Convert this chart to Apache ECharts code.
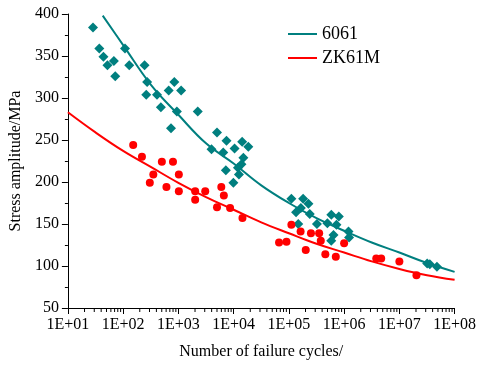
<!DOCTYPE html>
<html>
<head>
<meta charset="utf-8">
<script src="https://cdn.jsdelivr.net/npm/echarts@6/dist/echarts.min.js"></script>
<style>
html,body{margin:0;padding:0;background:#fff;}
#chart{width:479px;height:365px;}
</style>
</head>
<body>
<div id="chart"></div>
<script>
// ---- data ----
const xTickExponents = [1, 2, 3, 4, 5, 6, 7, 8];
const yTicks = [50, 100, 150, 200, 250, 300, 350, 400];

// 6061 test points [cycles, stress MPa]
const al6061Points = [
  [28.5, 384], [37, 359], [44, 349], [52, 339], [68, 344], [72, 326],
  [108, 359], [129, 339], [244, 339], [272, 319], [262, 304], [410, 304],
  [482, 289], [668, 309], [843, 319], [1122, 309], [938, 284], [735, 264],
  [2244, 284], [3972, 239], [5000, 259], [7430, 249], [6490, 235],
  [10400, 240], [14270, 248], [18450, 242], [15000, 229], [13860, 221],
  [11970, 217], [7230, 214], [12470, 209], [9890, 199],
  [111000, 180], [181000, 180], [226000, 174], [165000, 169], [135000, 164],
  [239000, 162], [148000, 150], [322000, 150], [586000, 161], [802000, 159],
  [498000, 151], [727000, 149], [643000, 137], [585000, 130],
  [1200000, 141], [1230000, 134],
  [31900000, 103], [35600000, 102], [47900000, 99]
];

// ZK61M test points [cycles, stress MPa]
const zk61mPoints = [
  [152, 244], [219, 230], [352, 209], [304, 199], [502, 224], [798, 224],
  [1019, 209], [608, 194], [1019, 189], [2013, 189], [3062, 189], [2013, 179],
  [5980, 194], [6650, 184], [5000, 170], [8630, 169], [14450, 157],
  [66400, 128], [90500, 129], [111000, 149], [163000, 141], [202000, 119],
  [251000, 139], [353000, 139], [378000, 130], [457000, 114], [707000, 111],
  [1000000, 127], [3820000, 109], [4690000, 109], [10000000, 105.5], [20400000, 89]
];

// fitted curves [cycles, stress MPa]
const al6061FitN = [42.7, 100, 316, 1000, 3162, 10000, 31623, 100000, 316228, 1000000, 3162278, 10000000, 31622777, 100000000];
const al6061FitS = [398, 363, 316, 280, 246, 222, 196, 175, 157, 142, 128, 116, 103.5, 93];
const zk61mFitN = [10, 31.6, 100, 316, 1000, 3162, 10000, 31623, 100000, 316228, 1000000, 3162278, 10000000, 31622777, 100000000];
const zk61mFitS = [283, 259, 237, 218, 199, 182, 167, 152, 139, 126.5, 116, 105.5, 96.5, 89, 83.5];

const seriesNames = ['6061', 'ZK61M'];
const TEAL = '#007f7f';
const RED = '#ff0000';
const FONT = 'Liberation Serif';

// minor tick positions on the log axis (2..9 in every decade)
const minorTicks = [];
for (let e = 1; e < 8; e++) {
  for (let m = 2; m <= 9; m++) minorTicks.push([m * Math.pow(10, e), 50]);
}

const chart = echarts.init(document.getElementById('chart'), null, {renderer: 'canvas'});
chart.setOption({
  animation: false,
  backgroundColor: '#fff',
  grid: {left: 62, right: 22, top: 14, bottom: 57, containLabel: false},
  legend: {
    data: seriesNames,
    orient: 'vertical',
    left: 283,
    top: 20,
    padding: 5,
    itemWidth: 29,
    itemHeight: 2,
    itemGap: 6,
    icon: 'rect',
    textStyle: {fontFamily: FONT, fontSize: 18, color: '#000'}
  },
  xAxis: {
    type: 'log',
    logBase: 10,
    min: 10,
    max: 1e8,
    splitNumber: 7,
    interval: 1,
    name: 'Number of failure cycles/',
    nameLocation: 'middle',
    nameGap: 36,
    nameTextStyle: {fontFamily: FONT, fontSize: 16, color: '#000'},
    axisLine: {show: true, lineStyle: {color: '#000', width: 1}},
    axisTick: {show: true, inside: false, length: 6, lineStyle: {color: '#000'}},
    minorTick: {show: false},
    splitLine: {show: false},
    axisLabel: {
      fontFamily: FONT, fontSize: 16, color: '#000', margin: 9,
      formatter: function (v) {
        const e = Math.round(Math.log10(v));
        return '1E+' + (e < 10 ? '0' + e : e);
      }
    }
  },
  yAxis: {
    type: 'value',
    min: 50,
    max: 400,
    interval: 50,
    name: 'Stress amplitude/MPa',
    nameLocation: 'middle',
    nameGap: 39,
    nameTextStyle: {fontFamily: FONT, fontSize: 16, color: '#000'},
    axisLine: {show: true, lineStyle: {color: '#000', width: 1}},
    axisTick: {show: true, inside: false, length: 6, lineStyle: {color: '#000'}},
    minorTick: {show: true, splitNumber: 2, length: 3, lineStyle: {color: '#000'}},
    splitLine: {show: false},
    axisLabel: {fontFamily: FONT, fontSize: 16, color: '#000', margin: 9}
  },
  series: [
    {
      name: '6061 points',
      type: 'scatter',
      symbol: 'diamond',
      symbolSize: 10,
      itemStyle: {color: TEAL, opacity: 1},
      data: al6061Points,
      z: 3
    },
    {
      name: 'ZK61M points',
      type: 'scatter',
      symbol: 'circle',
      symbolSize: 8,
      itemStyle: {color: RED, opacity: 1},
      data: zk61mPoints,
      z: 3
    },
    {
      name: seriesNames[0],
      type: 'line',
      smooth: 0.4,
      showSymbol: false,
      symbol: 'none',
      lineStyle: {color: TEAL, width: 2},
      itemStyle: {color: TEAL},
      data: al6061FitN.map((n, i) => [n, al6061FitS[i]]),
      z: 4
    },
    {
      name: seriesNames[1],
      type: 'line',
      smooth: 0.4,
      showSymbol: false,
      symbol: 'none',
      lineStyle: {color: RED, width: 2},
      itemStyle: {color: RED},
      data: zk61mFitN.map((n, i) => [n, zk61mFitS[i]]),
      z: 4
    },
    {
      name: 'minor ticks',
      type: 'custom',
      silent: true,
      clip: false,
      data: minorTicks,
      renderItem: function (params, api) {
        const p = api.coord([api.value(0), api.value(1)]);
        return {
          type: 'line',
          shape: {x1: p[0], y1: p[1], x2: p[0], y2: p[1] + 4},
          style: {stroke: '#000', lineWidth: 1}
        };
      },
      z: 5
    }
  ]
});
</script>
</body>
</html>
